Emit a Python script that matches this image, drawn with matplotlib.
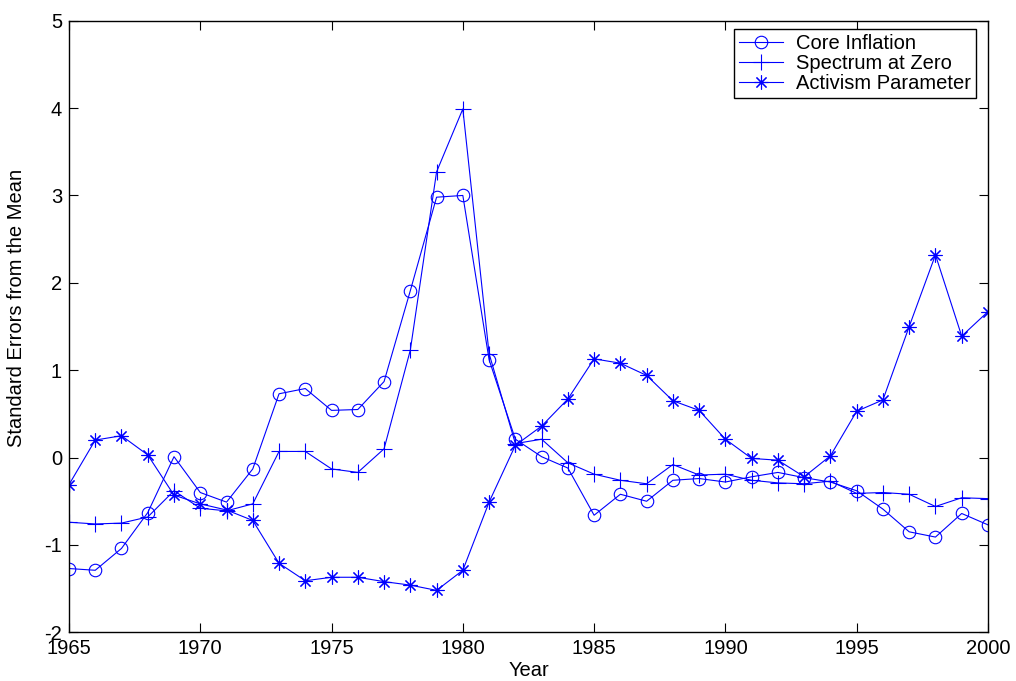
import matplotlib
matplotlib.use("Agg")
import matplotlib.pyplot as plt
from matplotlib.ticker import MultipleLocator

years = list(range(1965, 2001))

core_inflation = [
    -1.27, -1.29, -1.04, -0.63, 0.01, -0.40, -0.51, -0.13, 0.73, 0.79,
    0.54, 0.55, 0.87, 1.91, 2.98, 3.00, 1.12, 0.21, 0.01, -0.12,
    -0.66, -0.42, -0.50, -0.26, -0.24, -0.28, -0.22, -0.17, -0.23, -0.28,
    -0.38, -0.59, -0.85, -0.91, -0.64, -0.77,
]

spectrum_at_zero = [
    -0.74, -0.76, -0.75, -0.68, -0.38, -0.58, -0.61, -0.53, 0.07, 0.07,
    -0.13, -0.17, 0.10, 1.23, 3.27, 3.99, 1.19, 0.16, 0.21, -0.06,
    -0.19, -0.26, -0.30, -0.08, -0.20, -0.19, -0.26, -0.29, -0.30, -0.27,
    -0.41, -0.40, -0.42, -0.56, -0.46, -0.47,
]

activism_parameter = [
    -0.31, 0.20, 0.25, 0.03, -0.43, -0.53, -0.60, -0.72, -1.21, -1.41,
    -1.37, -1.37, -1.42, -1.46, -1.52, -1.29, -0.51, 0.14, 0.36, 0.67,
    1.13, 1.08, 0.94, 0.65, 0.54, 0.21, -0.01, -0.03, -0.22, 0.02,
    0.53, 0.66, 1.50, 2.32, 1.39, 1.67,
]

series_labels = ["Core Inflation", "Spectrum at Zero", "Activism Parameter"]

plt.rcParams["font.family"] = ["Liberation Sans", "DejaVu Sans"]
plt.rcParams["font.size"] = 14.5
plt.rcParams["axes.unicode_minus"] = False

fig = plt.figure(figsize=(10.16, 6.81), dpi=100)
ax = fig.add_axes([0.0679, 0.0715, 0.9045, 0.8981])

blue = (0, 0, 1)
ax.plot(years, core_inflation, color=blue, lw=0.8, marker="o", ms=9,
        mfc="none", mec=blue, mew=0.8, label=series_labels[0])
ax.plot(years, spectrum_at_zero, color=blue, lw=0.8, marker="+", ms=11,
        mec=blue, mew=0.8, label=series_labels[1])
ax.plot(years, activism_parameter, color=blue, lw=0.8, marker=(8, 2, 0), ms=10,
        mec=blue, mew=0.8, label=series_labels[2])

ax.set_xlim(1965, 2000)
ax.set_ylim(-2, 5)
ax.xaxis.set_major_locator(MultipleLocator(5))
ax.yaxis.set_major_locator(MultipleLocator(1))
ax.tick_params(direction="in", length=6.5, width=0.8, top=True, right=True,
               labelsize=14.5, pad=5)
for sp in ax.spines.values():
    sp.set_linewidth(1.0)

ax.set_xlabel("Year", fontsize=14.5, labelpad=2)
ax.set_ylabel("Standard Errors from the Mean", fontsize=14.5)
ax.yaxis.set_label_coords(-0.047, 0.53)

leg = ax.legend(loc="upper right", bbox_to_anchor=(0.987, 0.987),
                frameon=True, fancybox=False, shadow=False, framealpha=1,
                edgecolor="black", handlelength=2.2, handletextpad=0.65,
                labelspacing=0.05, borderpad=0.25, borderaxespad=0.0,
                fontsize=14.5)
leg.get_frame().set_linewidth(1.0)

fig.savefig("out.png", dpi=100)
